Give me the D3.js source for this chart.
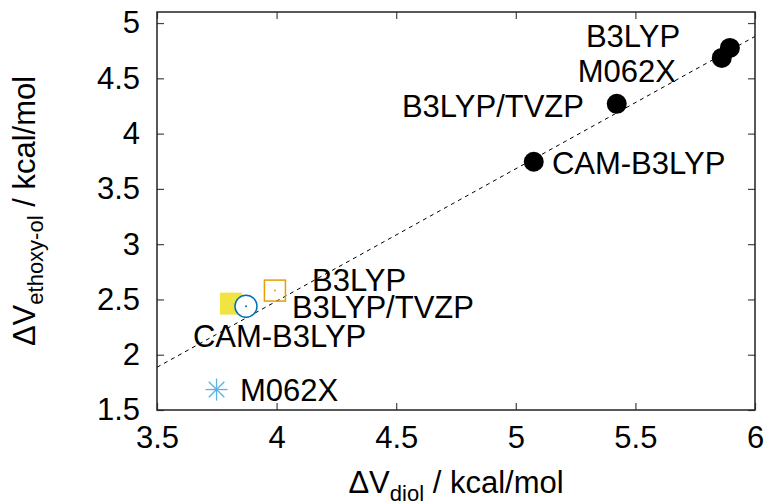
<!DOCTYPE html>
<html>
<head>
<meta charset="utf-8">
<script src="https://cdn.jsdelivr.net/npm/d3@7"></script>
<style>
body { margin: 0; background: #fff; }
text { font-family: "Liberation Sans", Arial, sans-serif; }
</style>
</head>
<body>
<script>
// filled points (upper set)
const upperNames = ["B3LYP", "M062X", "B3LYP/TVZP", "CAM-B3LYP"];
const upperDiol = [5.895, 5.861, 5.422, 5.075];
const upperEthoxy = [4.775, 4.685, 4.269, 3.745];

// lower set, one symbol each
const lowerNames = ["CAM-B3LYP", "B3LYP/TVZP", "B3LYP", "M062X"];
const lowerDiol = [3.809, 3.872, 3.993, 3.749];
const lowerEthoxy = [2.462, 2.438, 2.580, 1.685];
const lowerSymbols = ["fsquare", "circle", "square", "star"];
const lowerColors = ["#f0e442", "#0072b2", "#e69f00", "#56b4e9"];

// text labels in data coordinates
const labelText = ["B3LYP", "M062X", "B3LYP/TVZP", "CAM-B3LYP", "B3LYP", "B3LYP/TVZP", "CAM-B3LYP", "M062X"];
const labelX = [5.293, 5.259, 4.524, 5.151, 4.148, 4.064, 3.650, 3.847];
const labelY = [4.883, 4.567, 4.251, 3.736, 2.679, 2.435, 2.173, 1.685];

// linear fit
const fitSlope = 1.197;
const fitIntercept = -2.303;

const xTicks = [3.5, 4, 4.5, 5, 5.5, 6];
const yTicks = [1.5, 2, 2.5, 3, 3.5, 4, 4.5, 5];

const width = 770, height = 504;
const margin = { left: 157, right: 15, top: 12, bottom: 94 };

const svg = d3.select("body").append("svg")
    .attr("width", width)
    .attr("height", height);

const x = d3.scaleLinear().domain([3.5, 6]).range([margin.left, width - margin.right]);
const y = d3.scaleLinear().domain([1.5, 5.1]).range([height - margin.bottom, margin.top]);

const fontSize = 31;

// fit line
const fitLine = d3.line().x(d => x(d)).y(d => y(fitSlope * d + fitIntercept));
svg.append("path")
    .attr("d", fitLine(x.domain()))
    .attr("fill", "none")
    .attr("stroke", "#000")
    .attr("stroke-width", 1)
    .attr("stroke-dasharray", "4,4");

// axes with inward ticks on all sides
const tickLen = 7;
const axB = svg.append("g").attr("transform", `translate(0,${y.range()[0]})`)
    .call(d3.axisBottom(x).tickValues(xTicks).tickSizeInner(-tickLen).tickSizeOuter(0).tickPadding(16).tickFormat(d3.format("")));
const axT = svg.append("g").attr("transform", `translate(0,${y.range()[1]})`)
    .call(d3.axisTop(x).tickValues(xTicks).tickSizeInner(-tickLen).tickSizeOuter(0).tickFormat(""));
const axL = svg.append("g").attr("transform", `translate(${x.range()[0]},0)`)
    .call(d3.axisLeft(y).tickValues(yTicks).tickSizeInner(-tickLen).tickSizeOuter(0).tickPadding(17).tickFormat(d3.format("")));
const axR = svg.append("g").attr("transform", `translate(${x.range()[1]},0)`)
    .call(d3.axisRight(y).tickValues(yTicks).tickSizeInner(-tickLen).tickSizeOuter(0).tickFormat(""));

[axB, axT, axL, axR].forEach(g => {
    g.select(".domain").remove();
    g.selectAll(".tick line").attr("stroke", "#444").attr("stroke-width", 1.2);
    g.selectAll("text").attr("font-size", fontSize).attr("fill", "#000")
        .style("font-family", "'Liberation Sans', Arial, sans-serif");
});
axB.selectAll("text").attr("dy", "0.72em");

// frame
svg.append("rect")
    .attr("x", x.range()[0]).attr("y", y.range()[1])
    .attr("width", x.range()[1] - x.range()[0])
    .attr("height", y.range()[0] - y.range()[1])
    .attr("fill", "none").attr("stroke", "#222").attr("stroke-width", 1.5);

// upper filled circles
svg.append("g").selectAll("circle")
    .data(upperDiol)
    .enter().append("circle")
    .attr("cx", d => x(d))
    .attr("cy", (d, i) => y(upperEthoxy[i]))
    .attr("r", 10)
    .attr("fill", "#000");

// lower symbols
const s = 11;
lowerDiol.forEach((d, i) => {
    const cx = x(d), cy = y(lowerEthoxy[i]);
    const col = lowerColors[i];
    const g = svg.append("g").attr("transform", `translate(${cx},${cy})`);
    const sym = lowerSymbols[i];
    if (sym === "fsquare") {
        g.append("rect").attr("x", -s).attr("y", -s).attr("width", 2 * s).attr("height", 2 * s).attr("fill", col);
    } else if (sym === "square") {
        g.append("rect").attr("x", -s + 0.5).attr("y", -s + 0.5).attr("width", 2 * s - 1).attr("height", 2 * s - 1)
            .attr("fill", "none").attr("stroke", col).attr("stroke-width", 1.5);
        g.append("circle").attr("r", 1).attr("fill", col);
    } else if (sym === "circle") {
        g.append("circle").attr("r", s).attr("fill", "#fff").attr("stroke", col).attr("stroke-width", 1.5);
        g.append("circle").attr("r", 1).attr("fill", col);
    } else if (sym === "star") {
        [0, 45, 90, 135].forEach(a => {
            const r = s;
            const dx = r * Math.cos(a * Math.PI / 180), dy = r * Math.sin(a * Math.PI / 180);
            g.append("line").attr("x1", -dx).attr("y1", -dy).attr("x2", dx).attr("y2", dy)
                .attr("stroke", col).attr("stroke-width", 1.3);
        });
    }
});

// labels
svg.append("g").selectAll("text")
    .data(labelText)
    .enter().append("text")
    .attr("x", (d, i) => x(labelX[i]))
    .attr("y", (d, i) => y(labelY[i]))
    .attr("dy", "0.36em")
    .attr("font-size", fontSize)
    .attr("fill", "#000")
    .text(d => d);

// axis titles
const xt = svg.append("text")
    .attr("x", (x.range()[0] + x.range()[1]) / 2)
    .attr("y", 493)
    .attr("text-anchor", "middle")
    .attr("font-size", fontSize);
xt.append("tspan").text("\u0394V");
xt.append("tspan").attr("dy", 8).attr("font-size", 22).text("diol");
xt.append("tspan").attr("dy", -8).text(" / kcal/mol");

const yt = svg.append("text")
    .attr("transform", `translate(35,${(y.range()[0] + y.range()[1]) / 2}) rotate(-90)`)
    .attr("text-anchor", "middle")
    .attr("font-size", fontSize);
yt.append("tspan").text("\u0394V");
yt.append("tspan").attr("dy", 8).attr("font-size", 22).text("ethoxy-ol");
yt.append("tspan").attr("dy", -8).text(" / kcal/mol");
</script>
</body>
</html>
